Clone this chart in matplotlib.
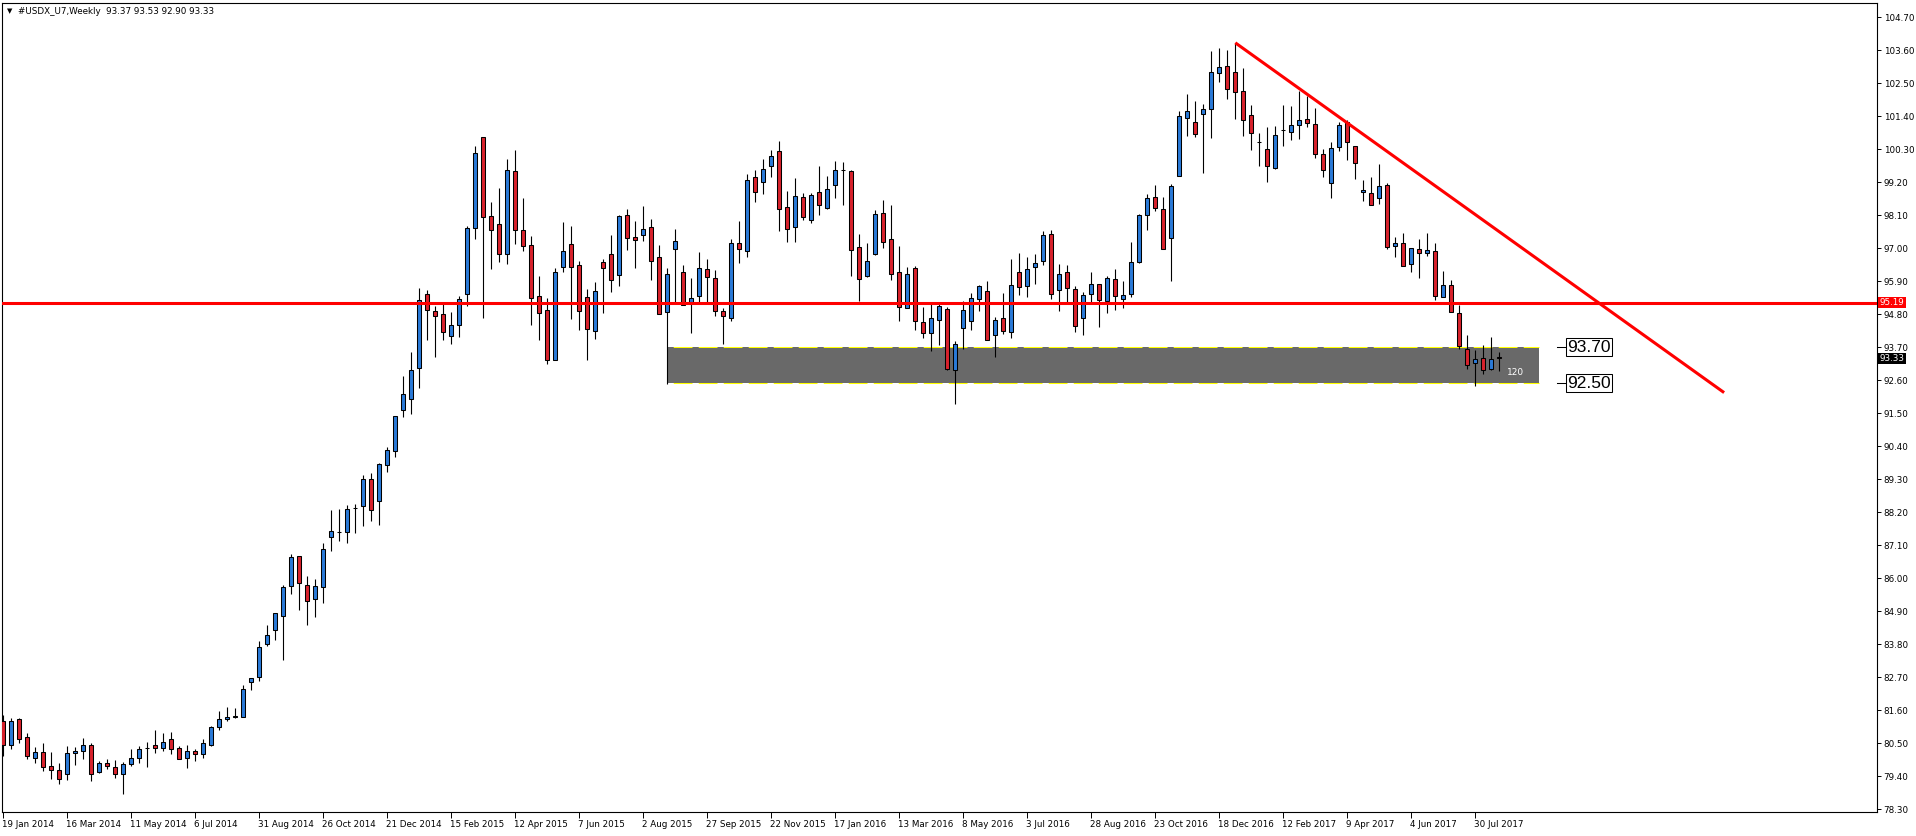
import matplotlib
matplotlib.use("Agg")
import matplotlib.pyplot as plt
from matplotlib.patches import Rectangle
import matplotlib.transforms as mtransforms
import numpy as np

# ---------------- data (weekly OHLC, #USDX_U7) ----------------
opens = [81.25, 80.43, 81.30, 80.70, 80.00, 80.20, 79.73, 79.60, 79.47, 80.17,
         80.23, 80.46, 79.55, 79.83, 79.70, 79.47, 79.80, 80.00, 80.33, 80.46,
         80.33, 80.63, 80.33, 80.00, 80.23, 80.13, 80.46, 81.03, 81.30, 81.37,
         81.37, 82.53, 82.72, 83.80, 84.27, 84.73, 85.73, 86.73, 85.77, 85.30,
         85.70, 87.37, 87.53, 87.53, 88.33, 88.40, 89.30, 88.57, 89.77, 90.23,
         91.60, 91.97, 93.00, 95.47, 94.90, 94.80, 94.07, 94.43, 95.47, 97.67,
         100.70, 98.07, 97.80, 96.80, 99.57, 97.60, 97.10, 95.40, 94.93, 93.27,
         96.37, 97.13, 96.43, 95.37, 94.23, 96.53, 96.80, 96.10, 98.10, 97.37,
         97.43, 97.70, 96.70, 94.87, 96.97, 96.20, 95.20, 95.40, 96.30, 96.00,
         94.90, 94.67, 97.17, 96.90, 99.37, 99.20, 99.76, 100.23, 98.37, 97.70,
         98.70, 97.93, 98.87, 98.33, 99.10, 99.60, 99.57, 97.03, 96.07, 96.80,
         98.17, 97.30, 96.20, 95.00, 96.33, 94.53, 94.17, 94.60, 94.97, 92.93,
         94.33, 94.57, 95.30, 95.57, 94.10, 94.67, 94.20, 96.20, 95.73, 96.37,
         96.57, 97.47, 95.60, 96.20, 95.63, 94.67, 95.47, 95.80, 95.23, 95.97,
         95.30, 95.47, 96.53, 98.10, 98.70, 98.30, 97.33, 99.40, 101.33, 101.20,
         101.47, 101.63, 102.83, 103.07, 102.87, 102.23, 101.43, 100.54, 100.30, 99.67,
         100.93, 100.87, 101.10, 101.30, 101.13, 100.13, 99.17, 100.37, 101.20, 100.40,
         98.87, 98.83, 98.67, 99.10, 97.07, 97.17, 96.47, 96.97, 96.83, 96.90,
         95.37, 95.77, 94.83, 93.63, 93.17, 93.33, 92.97, 93.37]
highs = [81.44, 81.34, 81.34, 80.83, 80.38, 80.50, 80.20, 79.83, 80.41, 80.38,
         80.68, 80.50, 79.90, 79.97, 79.93, 79.87, 80.30, 80.40, 80.53, 80.96,
         80.83, 80.87, 80.40, 80.46, 80.30, 80.66, 81.07, 81.57, 81.70, 81.67,
         82.43, 82.67, 83.91, 84.43, 84.83, 85.77, 86.80, 86.73, 86.07, 85.97,
         87.17, 88.27, 88.30, 88.43, 88.47, 89.43, 89.50, 89.83, 90.37, 91.40,
         92.73, 93.53, 95.67, 95.60, 95.07, 95.17, 94.87, 95.40, 97.73, 100.40,
         100.70, 98.53, 99.00, 99.97, 100.27, 98.67, 97.40, 96.07, 95.33, 96.33,
         97.87, 97.73, 96.57, 95.63, 95.87, 96.63, 97.43, 98.10, 98.30, 97.90,
         98.40, 97.97, 97.10, 96.33, 97.63, 96.43, 96.00, 96.87, 96.63, 96.27,
         95.00, 97.30, 97.90, 99.47, 99.60, 99.97, 100.27, 100.57, 98.90, 99.33,
         98.83, 98.83, 99.73, 99.40, 99.90, 99.87, 99.60, 97.47, 97.17, 98.27,
         98.60, 98.43, 97.07, 96.37, 96.40, 95.03, 95.17, 95.17, 95.03, 93.90,
         95.23, 95.50, 95.77, 95.90, 94.70, 95.50, 96.66, 96.83, 96.70, 96.80,
         97.57, 97.60, 96.47, 96.43, 95.73, 95.53, 96.20, 95.80, 96.07, 96.30,
         95.90, 97.20, 98.13, 98.80, 99.10, 98.70, 99.13, 101.57, 102.13, 101.90,
         101.80, 103.57, 103.67, 103.60, 103.83, 103.00, 101.77, 100.83, 101.03, 101.07,
         101.77, 101.73, 102.23, 102.07, 101.67, 100.30, 100.53, 101.20, 101.27, 100.40,
         99.27, 99.37, 99.80, 99.17, 97.37, 97.50, 97.00, 97.30, 97.50, 97.17,
         96.23, 95.93, 95.10, 94.10, 93.60, 93.77, 94.03, 93.53]
lows = [80.09, 80.30, 80.52, 79.99, 79.85, 79.59, 79.32, 79.16, 79.29, 79.79,
        79.99, 79.25, 79.52, 79.63, 79.35, 78.82, 79.73, 79.83, 79.70, 80.17,
        80.23, 80.13, 79.97, 79.67, 79.90, 80.00, 80.40, 80.96, 81.23, 81.33,
        81.37, 82.27, 82.59, 83.73, 83.93, 83.27, 85.47, 84.93, 84.45, 84.72,
        85.17, 86.90, 87.23, 87.17, 87.50, 87.73, 87.90, 87.77, 89.53, 90.03,
        91.37, 91.47, 92.33, 93.93, 93.37, 93.93, 93.80, 94.03, 95.07, 97.30,
        94.67, 96.30, 96.53, 96.47, 97.15, 96.90, 94.43, 93.93, 93.13, 93.27,
        96.20, 94.63, 94.27, 93.27, 93.97, 94.83, 95.53, 95.73, 96.93, 96.33,
        97.23, 95.93, 94.80, 92.47, 95.20, 95.10, 94.17, 95.20, 95.20, 94.73,
        93.80, 94.57, 96.50, 96.70, 98.53, 98.80, 99.37, 97.57, 97.20, 97.20,
        97.93, 97.83, 98.10, 98.30, 98.67, 98.43, 96.07, 95.23, 96.03, 96.77,
        97.00, 95.93, 94.57, 95.00, 94.27, 94.00, 93.57, 93.77, 92.93, 91.82,
        93.63, 94.27, 94.90, 93.93, 93.37, 94.13, 94.00, 95.46, 95.37, 95.80,
        96.43, 95.30, 94.90, 95.13, 94.20, 94.10, 95.13, 94.37, 94.83, 94.93,
        95.00, 95.37, 96.50, 97.60, 98.23, 96.97, 95.90, 99.40, 100.73, 100.70,
        99.50, 100.67, 102.53, 101.97, 101.30, 100.73, 100.27, 99.76, 99.20, 99.63,
        100.40, 100.60, 100.63, 101.03, 100.00, 99.37, 98.67, 100.23, 99.93, 99.30,
        98.57, 98.43, 98.47, 96.97, 96.70, 96.40, 96.20, 96.00, 96.73, 95.27,
        95.37, 94.87, 93.63, 92.97, 92.40, 92.80, 92.93, 92.90]
closes = [80.46, 81.25, 80.63, 80.07, 80.20, 79.70, 79.60, 79.30, 80.17, 80.23,
          80.46, 79.47, 79.83, 79.73, 79.47, 79.80, 80.00, 80.30, 80.34, 80.33,
          80.53, 80.30, 79.97, 80.23, 80.13, 80.50, 81.03, 81.30, 81.37, 81.40,
          82.30, 82.67, 83.70, 84.10, 84.83, 85.70, 86.70, 85.86, 85.23, 85.73,
          86.97, 87.57, 87.54, 88.30, 88.34, 89.30, 88.27, 89.80, 90.27, 91.40,
          92.13, 92.93, 95.27, 94.93, 94.73, 94.20, 94.43, 95.30, 97.67, 100.17,
          98.03, 97.60, 96.80, 99.60, 97.60, 97.07, 95.33, 94.83, 93.27, 96.20,
          96.90, 96.37, 94.90, 94.30, 95.57, 96.33, 95.93, 98.07, 97.33, 97.27,
          97.63, 96.57, 94.80, 96.13, 97.23, 95.10, 95.33, 96.33, 96.03, 94.90,
          94.73, 97.17, 96.97, 99.27, 98.87, 99.63, 100.07, 98.30, 97.63, 98.73,
          98.03, 98.77, 98.43, 98.97, 99.60, 99.61, 96.93, 95.97, 96.57, 98.13,
          97.20, 96.13, 95.03, 96.13, 94.57, 94.17, 94.67, 95.07, 92.97, 93.80,
          94.93, 95.33, 95.73, 93.93, 94.60, 94.23, 95.77, 95.70, 96.30, 96.50,
          97.43, 95.47, 96.13, 95.67, 94.40, 95.43, 95.80, 95.27, 96.00, 95.40,
          95.43, 96.53, 98.10, 98.67, 98.33, 96.97, 99.07, 101.40, 101.57, 100.80,
          101.63, 102.87, 103.03, 102.30, 102.20, 101.27, 100.83, 100.55, 99.73, 100.77,
          100.94, 101.10, 101.27, 101.17, 100.13, 99.60, 100.33, 101.10, 100.53, 99.83,
          98.93, 98.43, 99.07, 97.03, 97.17, 96.40, 97.00, 96.83, 96.93, 95.40,
          95.77, 94.87, 93.73, 93.10, 93.30, 92.93, 93.30, 93.33]

date_labels = ["19 Jan 2014", "16 Mar 2014", "11 May 2014", "6 Jul 2014",
               "31 Aug 2014", "26 Oct 2014", "21 Dec 2014", "15 Feb 2015",
               "12 Apr 2015", "7 Jun 2015", "2 Aug 2015", "27 Sep 2015",
               "22 Nov 2015", "17 Jan 2016", "13 Mar 2016", "8 May 2016",
               "3 Jul 2016", "28 Aug 2016", "23 Oct 2016", "18 Dec 2016",
               "12 Feb 2017", "9 Apr 2017", "4 Jun 2017", "30 Jul 2017"]
weeks_per_label = 8

price_ticks = [78.30, 79.40, 80.50, 81.60, 82.70, 83.80, 84.90, 86.00, 87.10,
               88.20, 89.30, 90.40, 91.50, 92.60, 93.70, 94.80, 95.90, 97.00,
               98.10, 99.20, 100.30, 101.40, 102.50, 103.60, 104.70]

resistance_level = 95.19
last_price = 93.33
zone_low, zone_high = 92.50, 93.70
zone_start_bar, zone_end_bar = 83, 192
zone_text = "120"
trend_bars = [154, 215.1]
trend_prices = [103.85, 92.19]
title_text = "#USDX_U7,Weekly  93.37 93.53 92.90 93.33"

# ---------------- figure ----------------
W, H = 1916, 836
fig = plt.figure(figsize=(W / 100, H / 100), dpi=100)
ax_left, ax_right, ax_top, ax_bottom = 2.3, 1876.7, 2.7, 812.0
ax = fig.add_axes([ax_left / W, (H - ax_bottom) / H,
                   (ax_right - ax_left) / W, (ax_bottom - ax_top) / H])

px_per_bar = 8.0
first_bar_px = 3.3
ax.set_xlim((ax_left - first_bar_px) / px_per_bar, (ax_right - first_bar_px) / px_per_bar)
px_per_unit = 30.0
ref_price, ref_px = 97.0, 248.3
ax.set_ylim(ref_price - (ax_bottom - ref_px) / px_per_unit,
            ref_price + (ref_px - ax_top) / px_per_unit)

o = np.array(opens); h = np.array(highs); l = np.array(lows); c = np.array(closes)
x = np.arange(len(o))
bull = c >= o
colors = np.where(bull, "#2a7ad8", "#d8222c")

# zone rectangle (background)
ax.add_patch(Rectangle((zone_start_bar, zone_low), zone_end_bar - zone_start_bar,
                       zone_high - zone_low, facecolor="#696969", edgecolor="none", zorder=1))
for lvl in (zone_low, zone_high):
    ax.hlines(lvl, zone_start_bar, zone_end_bar, colors="#ffff00", lw=0.75,
              linestyles=(18, (18, 6)), zorder=1.5)

# candles
ax.vlines(x, l, h, colors="black", lw=0.8, zorder=2)
ax.bar(x, np.abs(c - o), bottom=np.minimum(o, c), width=0.5, color=colors,
       edgecolor="black", linewidth=0.75, zorder=3)

# lines
ax.axhline(resistance_level, color="#ff0000", lw=2.2, zorder=4)
ax.plot(trend_bars, trend_prices, color="#ff0000", lw=2.2, zorder=4,
        solid_capstyle="butt")

# zone text and price labels
ax.text(zone_end_bar - 4.0, (zone_low + zone_high) / 2 - 0.25, zone_text,
        color="white", fontsize=6.5, ha="left", va="center", zorder=5)
for lvl in (zone_high, zone_low):
    ax.plot([zone_end_bar + 2.2, zone_end_bar + 3.4], [lvl, lvl], color="black",
            lw=0.75, zorder=5)
    ax.text(zone_end_bar + 3.45, lvl, f"{lvl:.2f}", fontsize=12.5,
            family="Liberation Sans", ha="left", va="center", zorder=5,
            bbox=dict(boxstyle="square,pad=0.08", fc="white", ec="black", lw=0.75))

# axes styling
for s in ax.spines.values():
    s.set_color("black")
    s.set_linewidth(0.8)
ax.yaxis.tick_right()
ax.set_yticks(price_ticks)
ax.set_yticklabels([f"{p:.2f}" for p in price_ticks])
ax.tick_params(axis="y", direction="out", length=3, width=0.7, pad=2,
               labelsize=6.3, colors="black")
xt = list(range(0, weeks_per_label * len(date_labels), weeks_per_label))
ax.set_xticks(xt)
ax.set_xticklabels(date_labels, ha="left")
ax.tick_params(axis="x", direction="out", length=4, width=0.7, pad=1.5,
               labelsize=6.3, colors="black")
shift = mtransforms.ScaledTranslation(-1 / 100, 0, fig.dpi_scale_trans)
for lab in ax.get_xticklabels():
    lab.set_transform(lab.get_transform() + shift)

# axis price tags
ytrans = mtransforms.blended_transform_factory(ax.transAxes, ax.transData)
ax.text(1.0015, resistance_level, f"{resistance_level:.2f}", transform=ytrans,
        fontsize=6.3, color="white", ha="left", va="center", zorder=6, clip_on=False,
        bbox=dict(boxstyle="square,pad=0.15", fc="#ff0000", ec="none"))
ax.text(1.0015, last_price, f"{last_price:.2f}", transform=ytrans,
        fontsize=6.3, color="white", ha="left", va="center", zorder=6, clip_on=False,
        bbox=dict(boxstyle="square,pad=0.15", fc="black", ec="none"))

# title
ax.text(0.0025, 0.989, "\u25bc", transform=ax.transAxes, fontsize=5, ha="left",
        va="center", color="black")
ax.text(0.0085, 0.989, title_text, transform=ax.transAxes, fontsize=6.3,
        ha="left", va="center", color="black")

fig.savefig("out.png", dpi=100, facecolor="white")
